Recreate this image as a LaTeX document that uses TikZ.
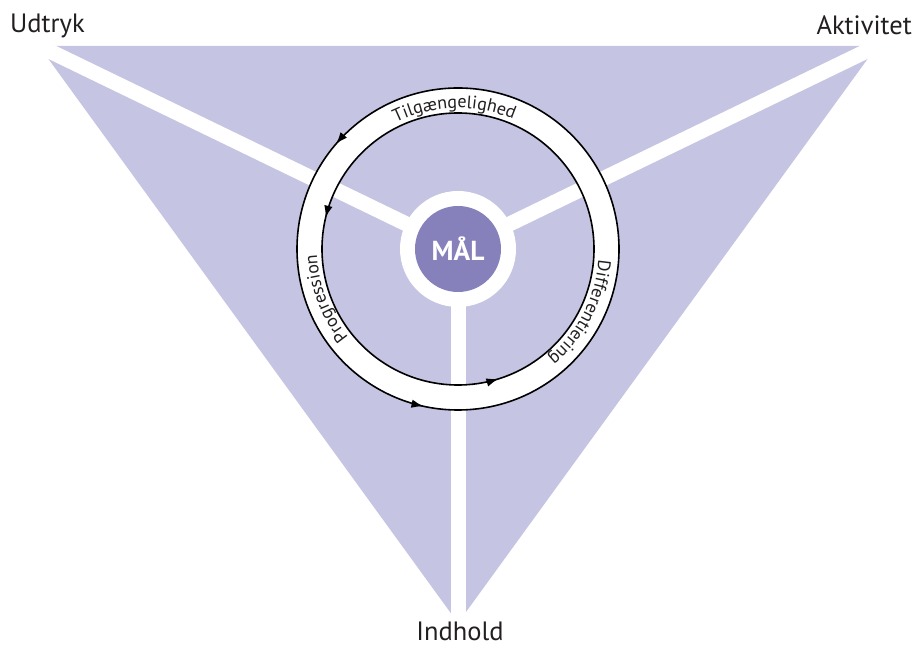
\documentclass[tikz,border=0pt]{standalone}
\usepackage{fontspec}
\setmainfont{PT Sans}
\usetikzlibrary{decorations.markings,decorations.text,arrows.meta,calc}
\definecolor{trifill}{RGB}{197,196,226}
\definecolor{goalfill}{RGB}{134,128,187}
\definecolor{txt}{RGB}{35,31,32}
\newcommand\ringfont{\fontsize{18}{18}\selectfont}
\tikzset{ringtip/.tip={Latex[length=12pt,width=8.5pt]}}
\begin{document}
\begin{tikzpicture}[x=1pt,y=1pt,
  spoke/.style={white, line width=15pt},
  cornerlabel/.style={text=txt, font=\fontsize{26.5}{26.5}\selectfont, inner sep=0pt},
  ringline/.style={line width=1.6pt, black}]
\useasboundingbox (0,0) rectangle (916,645);
\coordinate (C) at (458,396);
\coordinate (TL) at (39,599);
\coordinate (TR) at (877,599);
\coordinate (B) at (458,22);
\fill[trifill] (TL) -- (TR) -- (B) -- cycle;
\draw[spoke] (C) -- ($(C)!1.1!(TL)$);
\draw[spoke] (C) -- ($(C)!1.1!(TR)$);
\draw[spoke] (C) -- ($(C)!1.1!(B)$);
\fill[white] (C) circle[radius=58];
\node[circle, fill=goalfill, minimum size=86pt, inner sep=0pt, text=white,
  font=\bfseries\fontsize{27.5}{27.5}\selectfont] (goal) at (C) {MÅL};
\fill[white, even odd rule] (C) circle[radius=161] (C) circle[radius=136];
\draw[ringline, postaction={decorate}, decoration={markings,
  mark=at position 0.387 with {\arrow{ringtip}},
  mark=at position 0.7156 with {\arrow{ringtip}},
  mark=at position 0.0442 with {\arrow{ringtip}}}] (C) circle[radius=161];
\draw[ringline, postaction={decorate}, decoration={markings,
  mark=at position 0.463 with {\arrow{ringtip}},
  mark=at position 0.798 with {\arrow{ringtip}},
  mark=at position 0.1144 with {\arrow{ringtip}}}] (C) circle[radius=136];
\path[decorate, decoration={text along path, text align=center,
  text={|\color{txt}\ringfont|Tilgængelighed}}]
  ($(C)+(151.5:141)$) arc[start angle=151.5, end angle=31.5, radius=141];
\path[decorate, decoration={text along path, text align=center,
  text={|\color{txt}\ringfont|Progression}}]
  ($(C)+(260.6:141)$) arc[start angle=260.6, end angle=140.6, radius=141];
\path[decorate, decoration={text along path, text align=center,
  text={|\color{txt}\ringfont|Differentiering}}]
  ($(C)+(392.6:141)$) arc[start angle=392.6, end angle=272.6, radius=141];
\node[cornerlabel, anchor=base west] (udtryk) at (10,612) {Udtryk};
\node[cornerlabel, anchor=base east] (aktivitet) at (912,610) {Aktivitet};
\node[cornerlabel, anchor=base] (indhold) at (460,4) {Indhold};
\end{tikzpicture}
\end{document}
